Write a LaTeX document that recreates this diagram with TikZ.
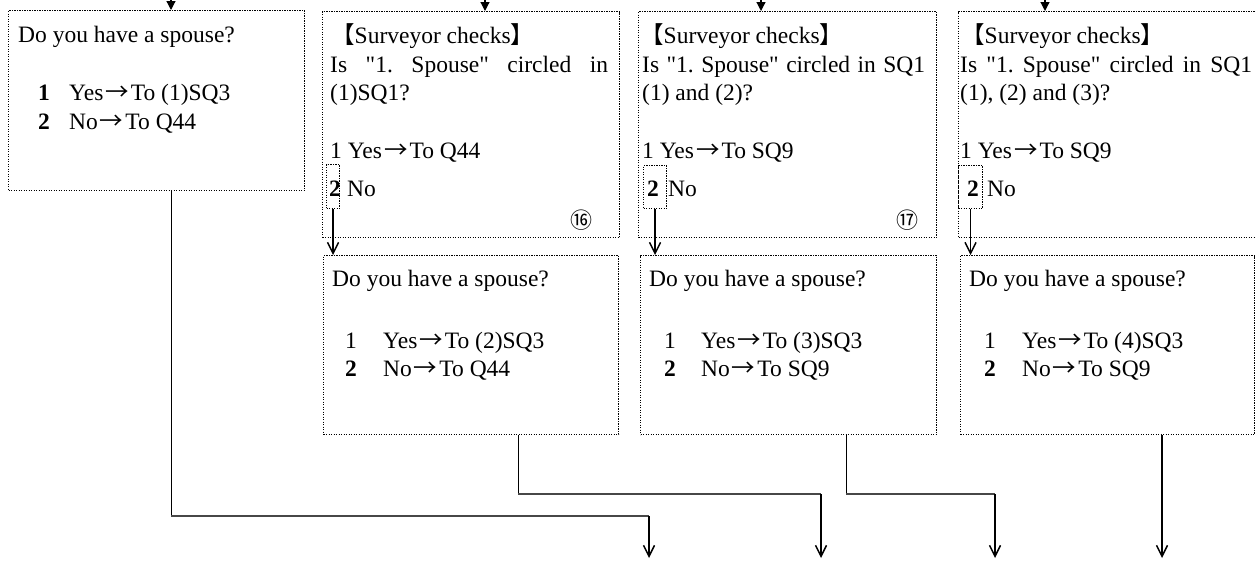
\documentclass[tikz,border=0pt]{standalone}
\usepackage{fontspec}
\setmainfont{Liberation Serif}
\newfontfamily\cjk{Noto Sans CJK JP}
\usetikzlibrary{arrows.meta}
\newcommand{\qq}{\XeTeXglyph\XeTeXcharglyph"22\relax}
\newcommand{\ar}{{\kern2pt\cjk →\kern2pt}}
\frenchspacing
\begin{document}
\begin{tikzpicture}[x=1pt,y=-1pt,
  box/.style={draw, line width=1.1pt, dash pattern=on 1.2pt off 1.3pt, anchor=north west, inner sep=0pt},
  txt/.style={anchor=base west, inner sep=0pt, font=\fontsize{23.5}{29}\selectfont},
  circ/.style={anchor=center, inner sep=0pt, font=\cjk\fontsize{22}{22}\selectfont},
  topar/.style={-{Triangle[length=9pt,width=9pt]}, line width=1.2pt},
  downar/.style={-{Straight Barb[length=11pt,width=11pt]}, line width=1.5pt},
  conn/.style={line width=0.8pt},
  hconn/.style={line width=2pt, draw=black!72}]
\useasboundingbox (0,0) rectangle (1255,560);
% ---------- boxes ----------
\node[box, minimum width=296pt, minimum height=180pt] (A) at (8,10) {};
\node[box, minimum width=297pt, minimum height=226pt] (B) at (322,11) {};
\node[box, minimum width=298pt, minimum height=226pt] (C) at (638,11) {};
\node[box, minimum width=300pt, minimum height=226pt] (F) at (958,11) {};
\node[box, minimum width=295pt, minimum height=179pt] (D) at (323,255) {};
\node[box, minimum width=296pt, minimum height=179pt] (E) at (640,255) {};
\node[box, minimum width=294pt, minimum height=179pt] (G) at (960,255) {};
% small boxes round "2"
\node[box, minimum width=13pt, minimum height=44pt] (b2) at (326,164) {};
\node[box, minimum width=23pt, minimum height=43pt] (c2) at (643,165) {};
\node[box, minimum width=24pt, minimum height=43pt] (f2) at (958,165) {};
% ---------- texts: box A ----------
\node[txt] (a1) at (18,42) {Do you have a spouse?};
\node[txt] (a2) at (38,100) {\textbf{1}};
\node[txt] (a3) at (69,100) {Yes\ar To (1)SQ3};
\node[txt] (a4) at (38,129) {\textbf{2}};
\node[txt] (a5) at (69,129) {No\ar To Q44};
% ---------- box B ----------
\node[txt] (b1) at (331,43) {{\cjk【}Surveyor checks{\cjk】}};
\node[txt] (b3) at (330,72) {\makebox[278pt][s]{Is \qq1. Spouse\qq{} circled in}};
\node[txt] (b4) at (330,100) {(1)SQ1?};
\node[txt] (b5) at (330,158) {1 Yes\ar To Q44};
\node[txt] (b6) at (329,196) {\textbf{2}};
\node[txt] (b7) at (347,196) {No};
\node[circ] (b8) at (581,220) {⑯};
% ---------- box C ----------
\node[txt] (c1) at (640,43) {{\cjk【}Surveyor checks{\cjk】}};
\node[txt] (c3) at (642,72) {\makebox[283pt][s]{Is \qq1. Spouse\qq{} circled in SQ1}};
\node[txt] (c4) at (642,100) {(1) and (2)?};
\node[txt] (c5) at (642,158) {1 Yes\ar To SQ9};
\node[txt] (c6) at (647,196) {\textbf{2}};
\node[txt] (c7) at (668,196) {No};
\node[circ] (c8) at (907,220) {⑰};
% ---------- box F ----------
\node[txt] (f1) at (961,43) {{\cjk【}Surveyor checks{\cjk】}};
\node[txt] (f3) at (960,72) {\makebox[292pt][s]{Is \qq1. Spouse\qq{} circled in SQ1}};
\node[txt] (f4) at (960,100) {(1), (2) and (3)?};
\node[txt] (f5) at (960,158) {1 Yes\ar To SQ9};
\node[txt] (f6) at (967,196) {\textbf{2}};
\node[txt] (f7) at (987,196) {No};
% ---------- box D ----------
\node[txt] (d1) at (332,286) {Do you have a spouse?};
\node[txt] (d2) at (345,348) {1};
\node[txt] (d3) at (383,348) {Yes\ar To (2)SQ3};
\node[txt] (d4) at (345,376) {\textbf{2}};
\node[txt] (d5) at (383,376) {No\ar To Q44};
% ---------- box E ----------
\node[txt] (e1) at (649,286) {Do you have a spouse?};
\node[txt] (e2) at (664,348) {1};
\node[txt] (e3) at (701,348) {Yes\ar To (3)SQ3};
\node[txt] (e4) at (664,376) {\textbf{2}};
\node[txt] (e5) at (701,376) {No\ar To SQ9};
% ---------- box G ----------
\node[txt] (g1) at (969,286) {Do you have a spouse?};
\node[txt] (g2) at (984,348) {1};
\node[txt] (g3) at (1022,348) {Yes\ar To (4)SQ3};
\node[txt] (g4) at (984,376) {\textbf{2}};
\node[txt] (g5) at (1022,376) {No\ar To SQ9};
% ---------- top arrows ----------
\coordinate (ta) at (171,-6);
\coordinate (tb) at (485,-6);
\coordinate (tc) at (761,-6);
\coordinate (tf) at (1045,-6);
\draw[topar] (ta) -- (ta |- A.north);
\draw[topar] (tb) -- (tb |- B.north);
\draw[topar] (tc) -- (tc |- C.north);
\draw[topar] (tf) -- (tf |- F.north);
% ---------- "2" to lower boxes ----------
\draw[downar] (b2.south) -- (b2.south |- D.north);
\draw[downar] (c2.south) -- (c2.south |- E.north);
\draw[downar] (f2.south) -- (f2.south |- G.north);
% ---------- bottom connectors ----------
\coordinate (ha) at (171,516);
\coordinate (hd) at (518,494);
\coordinate (he) at (846,494);
\coordinate (ea) at (649,558);
\coordinate (ed) at (821,558);
\coordinate (ee) at (995,558);
\coordinate (eg) at (1162,558);
\draw[conn] (ha |- A.south) -- (ha);
\draw[hconn] (ha) -- (ha -| ea);
\draw[downar] (ha -| ea) -- (ea);
\draw[conn] (hd |- D.south) -- (hd);
\draw[hconn] (hd) -- (hd -| ed);
\draw[downar] (hd -| ed) -- (ed);
\draw[conn] (he |- E.south) -- (he);
\draw[hconn] (he) -- (he -| ee);
\draw[downar] (he -| ee) -- (ee);
\draw[downar] (eg |- G.south) -- (eg);
\end{tikzpicture}
\end{document}
